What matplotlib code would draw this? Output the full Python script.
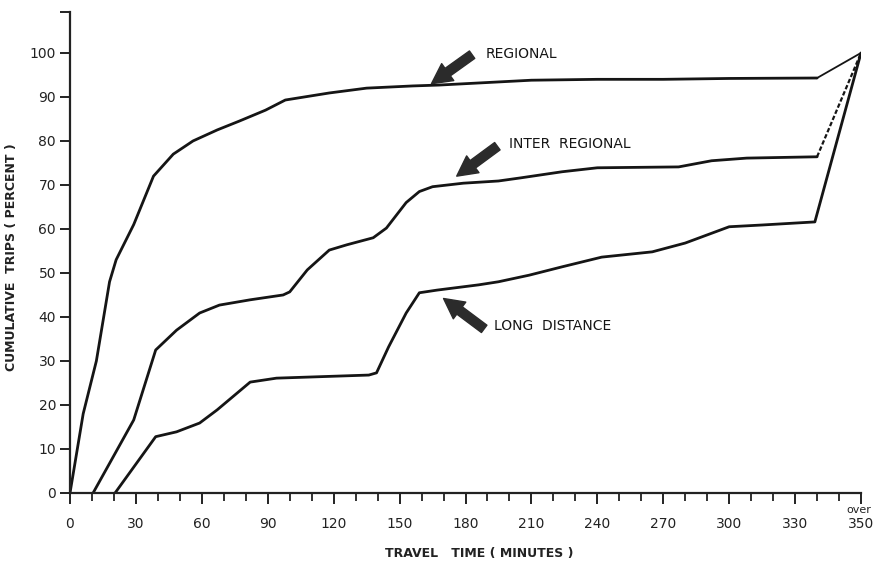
import matplotlib.pyplot as plt
import numpy as np

# travel time (minutes) and cumulative trips (percent)
regional_x = [0, 6, 12, 18, 21, 29, 38, 47, 56, 67, 77, 89, 98, 118, 135, 156, 168, 210, 240, 270, 300, 340, 360]
regional_y = [0, 18, 30, 48, 53, 61, 72, 77, 80, 82.5, 84.5, 87, 89.3, 90.9, 92, 92.5, 92.7, 93.8, 94, 94, 94.2, 94.3, 100]

inter_x = [10.5, 29, 39, 48.5, 59, 68, 82, 97, 100, 108, 118, 126, 138, 144, 153, 159, 165, 179, 195, 205, 224, 240, 277, 292, 308, 340, 360]
inter_y = [0, 16.6, 32.5, 37, 40.9, 42.7, 43.9, 45, 45.7, 50.7, 55.2, 56.4, 58, 60.2, 66, 68.5, 69.6, 70.4, 70.9, 71.6, 73, 73.9, 74.1, 75.5, 76.1, 76.4, 100]

long_x = [20.5, 39, 48.5, 59, 67, 82, 94, 136, 139.5, 145, 153, 159, 167, 186, 195, 209, 224, 242, 265, 280, 300, 315, 339, 360]
long_y = [0, 12.8, 13.9, 15.9, 18.9, 25.2, 26.1, 26.8, 27.3, 33.2, 40.9, 45.5, 46.1, 47.3, 48, 49.5, 51.4, 53.6, 54.8, 56.8, 60.5, 60.9, 61.6, 100]

y_ticks = [0, 10, 20, 30, 40, 50, 60, 70, 80, 90, 100]
x_major = [0, 30, 60, 90, 120, 150, 180, 210, 240, 270, 300, 330, 360]
x_labels = ['0', '30', '60', '90', '120', '150', '180', '210', '240', '270', '300', '330', '350']

# (label, arrow tip, arrow tail, text position)
labels = [
    ('REGIONAL', (164.5, 93.0), (183, 99.6), (189, 99.8)),
    ('INTER  REGIONAL', (176, 72.0), (194.5, 78.8), (200, 79.2)),
    ('LONG  DISTANCE', (170, 44.2), (188.5, 37.3), (193, 38.0)),
]

ink = '#151515'

fig = plt.figure(figsize=(8.75, 5.66), dpi=100)
ax = fig.add_axes([70 / 875, 73 / 566, 791 / 875, 481 / 566])

lw = 2.0
ax.plot(regional_x[:-1], regional_y[:-1], color=ink, lw=lw, solid_capstyle='round')
ax.plot(regional_x[-2:], regional_y[-2:], color=ink, lw=1.3)
ax.plot(inter_x[:-1], inter_y[:-1], color=ink, lw=lw, solid_capstyle='round')
ax.plot(inter_x[-2:], inter_y[-2:], color=ink, lw=1.6, ls=(0, (2, 1)))
ax.plot(long_x, long_y, color=ink, lw=lw, solid_capstyle='round')

for text, tip, tail, pos in labels:
    ax.annotate('', xy=tip, xytext=tail,
                arrowprops=dict(arrowstyle='simple,head_length=1.2,head_width=1.25,tail_width=0.55',
                                mutation_scale=12, color='#2b2b2b', shrinkA=0, shrinkB=0))
    ax.text(pos[0], pos[1], text, fontsize=10, color=ink, va='center', ha='left')

ax.set_xlim(0, 360)
ax.set_ylim(0, 109.3)
for s in ['top', 'right']:
    ax.spines[s].set_visible(False)
for s in ['left', 'bottom']:
    ax.spines[s].set_linewidth(1.6)
    ax.spines[s].set_color('#222222')

ax.set_yticks(y_ticks + [109.3])
ax.set_yticklabels([str(v) for v in y_ticks] + [''])
ax.set_xticks(x_major)
ax.set_xticklabels(x_labels)
ax.set_xticks(np.arange(10, 360, 10), minor=True)
ax.tick_params(axis='y', length=7, width=1.4, labelsize=10, pad=3, colors='#222222')
ax.tick_params(axis='x', which='major', length=8, width=1.4, labelsize=10, pad=9, colors='#222222')
ax.tick_params(axis='x', which='minor', length=6, width=1.3, colors='#222222')
ax.text(359, -5.0, 'over', fontsize=8, color='#222222', ha='center', va='bottom', clip_on=False)

ax.set_xlabel('TRAVEL   TIME ( MINUTES )', fontsize=9, fontweight='bold', color='#222222')
ax.xaxis.set_label_coords(0.517, -0.113)
ax.set_ylabel('CUMULATIVE  TRIPS ( PERCENT )', fontsize=9, fontweight='bold', color='#222222')
ax.yaxis.set_label_coords(-0.066, 0.49)

fig.savefig('out.png', dpi=100)
